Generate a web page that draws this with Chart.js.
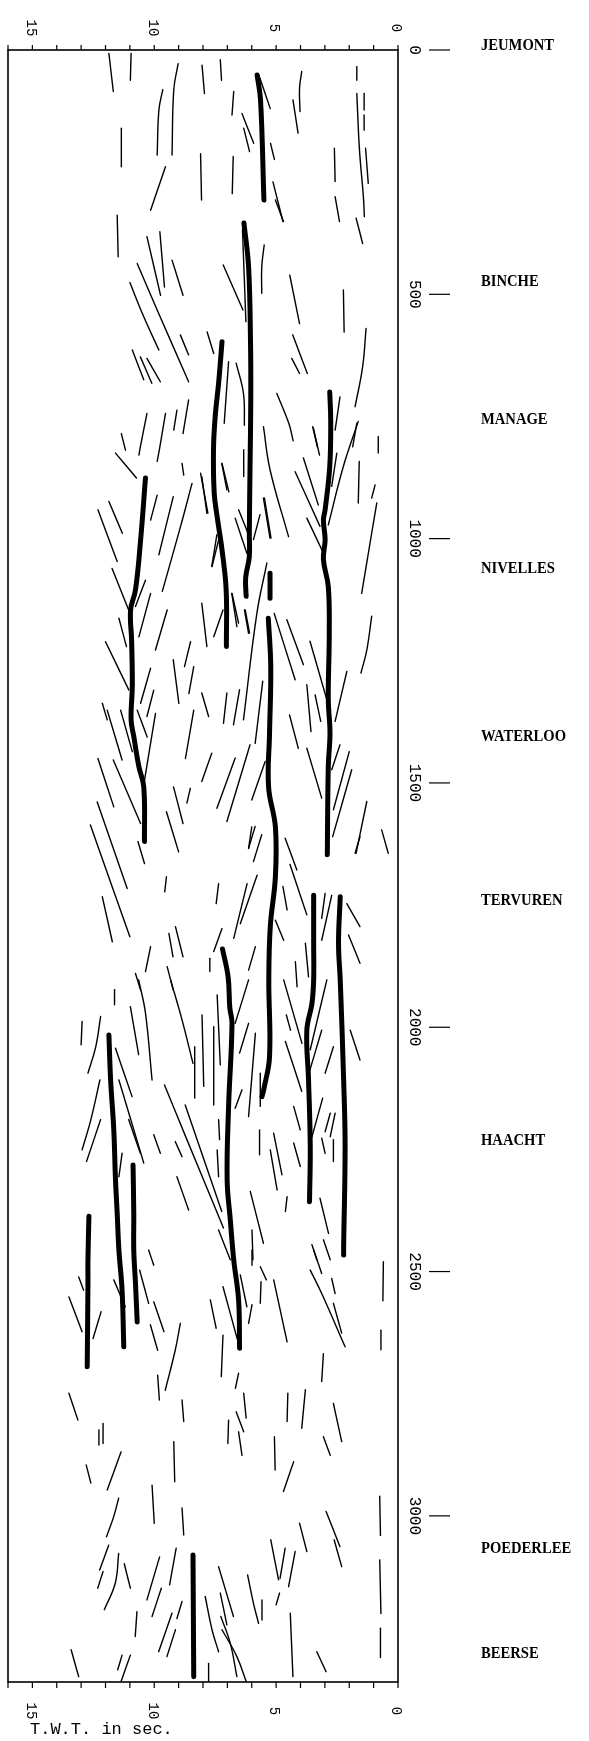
<!DOCTYPE html>
<html>
<head>
<meta charset="utf-8">
<script src="https://cdn.jsdelivr.net/npm/chart.js@4.4.0/dist/chart.umd.min.js"></script>
<style>
html, body { margin: 0; padding: 0; background: #fff; }
#wrap { width: 589px; height: 1741px; }
</style>
</head>
<body>
<div id="wrap"><canvas id="profile" width="589" height="1741"></canvas></div>
<script>
// Axis ticks
const twtTicks = [0, 5, 10, 15];
const distTicks = [0, 500, 1000, 1500, 2000, 2500, 3000];

// Localities along the profile (distance)
const placeNames = ["JEUMONT", "BINCHE", "MANAGE", "NIVELLES", "WATERLOO", "TERVUREN", "HAACHT", "POEDERLEE", "BEERSE"];
const placeDist = [-10, 473, 757, 1062, 1406, 1740, 2233, 3066, 3281];

// Main reflectors, [twt (s), distance]
const thickLines = [
    [[5.78, 51], [5.64, 102], [5.5, 307]],
    [[6.32, 354], [6.13, 444], [6.05, 600], [6.04, 716], [6.07, 852], [6.1, 989], [6.1, 1037], [6.25, 1080], [6.23, 1118]],
    [[7.22, 597], [7.36, 682], [7.5, 750], [7.57, 818], [7.54, 907], [7.42, 955], [7.22, 1023], [7.05, 1105], [7.04, 1221]],
    [[2.8, 700], [2.76, 760], [2.8, 852], [2.99, 941], [3.06, 962], [2.99, 1002], [3.06, 1043], [2.86, 1098], [2.82, 1193], [2.86, 1330], [2.79, 1398], [2.86, 1466], [2.9, 1647]],
    [[5.25, 1071], [5.25, 1122]],
    [[5.32, 1163], [5.22, 1262], [5.27, 1398], [5.31, 1508], [5.03, 1590], [5.03, 1692], [5.24, 1794], [5.3, 1903], [5.27, 2060], [5.51, 2128], [5.58, 2142]],
    [[10.36, 876], [10.56, 1003], [10.77, 1105], [10.97, 1146], [10.93, 1207], [10.9, 1300], [10.95, 1371], [10.84, 1405], [10.63, 1467], [10.43, 1508], [10.4, 1620]],
    [[7.2, 1840], [6.97, 1897], [6.9, 1960], [6.81, 1992], [6.95, 2162], [7.01, 2312], [6.88, 2394], [6.74, 2476], [6.54, 2558], [6.5, 2657]],
    [[3.46, 1730], [3.46, 1828], [3.46, 1903], [3.53, 1951], [3.74, 2006], [3.67, 2108], [3.6, 2244], [3.63, 2357]],
    [[2.37, 1733], [2.44, 1828], [2.37, 1903], [2.23, 2108], [2.17, 2244], [2.23, 2449], [2.23, 2466]],
    [[11.86, 2016], [11.79, 2108], [11.66, 2210], [11.59, 2312], [11.52, 2381], [11.45, 2456], [11.32, 2538], [11.25, 2654]],
    [[10.87, 2282], [10.84, 2381], [10.84, 2456], [10.77, 2524], [10.7, 2603]],
    [[12.68, 2387], [12.72, 2476], [12.72, 2524], [12.75, 2695]],
    [[8.41, 3080], [8.38, 3329]]
];

// Other reflector segments, [twt (s), distance]
const thinLines = [
    [[11.86, 7], [11.68, 85]], [[10.95, 7], [10.98, 62]], [[9.02, 28], [9.2, 82], [9.27, 215]],
    [[9.65, 81], [9.81, 123], [9.88, 215]], [[8.04, 31], [7.94, 89]], [[7.29, 20], [7.24, 62]],
    [[11.35, 160], [11.35, 239]], [[8.1, 212], [8.06, 307]], [[6.74, 85], [6.81, 133]],
    [[6.76, 218], [6.8, 294]], [[6.4, 130], [5.92, 191]], [[6.33, 160], [6.09, 208]],
    [[5.71, 51], [5.24, 120]], [[5.23, 191], [5.07, 224]], [[5.13, 270], [4.72, 351]],
    [[5.03, 307], [4.7, 351]], [[9.54, 239], [10.15, 328]], [[11.52, 338], [11.48, 423]],
    [[10.3, 382], [9.74, 502]], [[9.77, 372], [9.58, 485]], [[10.7, 437], [9.88, 532], [8.59, 679]],
    [[11.0, 476], [10.43, 546], [9.81, 614]], [[9.27, 430], [8.82, 502]], [[7.17, 440], [6.36, 532]],
    [[6.38, 368], [6.24, 556]], [[5.49, 399], [5.59, 444], [5.59, 498]], [[4.44, 461], [4.04, 560]],
    [[8.93, 583], [8.59, 624]], [[7.83, 577], [7.56, 621]], [[6.95, 638], [7.13, 764]],
    [[6.64, 641], [6.34, 703], [6.3, 768]], [[10.9, 614], [10.43, 675]], [[10.57, 628], [10.1, 682]],
    [[10.3, 631], [9.75, 679]], [[9.07, 737], [9.2, 778]], [[8.59, 716], [8.82, 785]],
    [[10.3, 744], [10.57, 812], [10.63, 829]], [[9.54, 744], [9.77, 812], [9.88, 842]], [[11.35, 785], [11.18, 819]],
    [[4.31, 102], [4.1, 170]], [[4.97, 703], [4.48, 764], [4.3, 800]],
    [[3.95, 44], [4.04, 78], [4.02, 126]], [[1.69, 34], [1.69, 62]], [[1.39, 89], [1.39, 123]],
    [[1.39, 133], [1.39, 164]], [[1.69, 89], [1.58, 205], [1.42, 300], [1.38, 341]], [[1.33, 201], [1.22, 273]],
    [[2.61, 201], [2.58, 269]], [[2.58, 300], [2.4, 351]], [[1.72, 344], [1.45, 396]],
    [[2.24, 491], [2.21, 577]], [[1.31, 570], [1.45, 648], [1.76, 730]], [[4.32, 583], [3.72, 662]],
    [[4.36, 631], [4.04, 662]], [[2.38, 710], [2.58, 778]], [[1.69, 764], [1.86, 812]],
    [[3.5, 771], [3.31, 812]],
    [[5.52, 771], [5.25, 859], [4.49, 996]], [[3.88, 835], [3.27, 931]], [[3.47, 774], [3.22, 829]],
    [[4.22, 863], [3.2, 975]], [[3.74, 958], [2.99, 1037]], [[1.63, 760], [2.24, 852], [2.86, 972]],
    [[2.51, 825], [2.72, 893]], [[0.81, 791], [0.81, 825]], [[1.59, 842], [1.63, 927]],
    [[0.94, 890], [1.08, 917]], [[0.87, 927], [1.08, 989], [1.49, 1112]], [[1.08, 1159], [1.28, 1228], [1.52, 1275]],
    [[6.68, 958], [6.2, 1030]], [[6.54, 941], [6.07, 999]], [[5.66, 951], [5.93, 1002]],
    [[5.52, 917], [5.25, 999]], [[7.23, 846], [7.02, 900]], [[8.05, 873], [7.84, 948]],
    [[7.43, 992], [7.64, 1057]], [[5.38, 1050], [5.79, 1153], [6.34, 1371]], [[8.05, 1132], [7.84, 1221]],
    [[6.27, 1146], [6.09, 1193]], [[6.82, 1112], [6.61, 1180]], [[5.08, 1153], [4.22, 1289]],
    [[4.56, 1166], [3.88, 1258]], [[3.61, 1210], [2.86, 1340]], [[3.74, 1299], [3.57, 1395]],
    [[3.4, 1320], [3.17, 1374]], [[2.1, 1272], [2.58, 1374]], [[8.05, 1316], [7.77, 1364]],
    [[7.02, 1316], [7.16, 1378]], [[6.5, 1309], [6.75, 1381]], [[5.55, 1292], [5.86, 1419]],
    [[4.45, 1361], [4.09, 1429]], [[3.74, 1429], [3.13, 1531]], [[2.38, 1422], [2.72, 1473]],
    [[2.0, 1436], [2.65, 1555]], [[1.9, 1473], [2.68, 1610]], [[1.28, 1538], [1.72, 1644]],
    [[0.67, 1596], [0.4, 1644]], [[7.64, 1439], [8.05, 1497]], [[6.68, 1449], [7.43, 1552]],
    [[6.07, 1422], [7.02, 1579]], [[5.45, 1456], [6.0, 1535]], [[5.86, 1589], [6.13, 1634]],
    [[5.59, 1606], [5.93, 1661]], [[4.63, 1613], [4.15, 1678]], [[4.43, 1667], [3.74, 1770]],
    [[11.59, 825], [10.73, 876]], [[11.86, 924], [11.31, 989]], [[12.31, 941], [11.52, 1047]],
    [[9.88, 911], [10.15, 962]], [[9.22, 914], [9.81, 1033]], [[8.45, 887], [8.92, 975], [9.67, 1108]],
    [[8.86, 846], [8.79, 870]], [[8.1, 866], [7.8, 948]], [[7.22, 846], [6.94, 904]],
    [[6.33, 818], [6.33, 873]], [[5.48, 917], [5.21, 999]], [[7.63, 1057], [7.36, 1003]],
    [[11.73, 1061], [11.05, 1146]], [[10.36, 1085], [10.77, 1139]], [[10.15, 1112], [10.63, 1201]],
    [[9.47, 1146], [9.95, 1228]], [[11.45, 1163], [11.14, 1221]], [[12.0, 1211], [11.04, 1310]],
    [[10.15, 1265], [10.56, 1337]], [[10.02, 1310], [10.3, 1364]], [[8.51, 1211], [8.76, 1262]],
    [[8.38, 1262], [8.58, 1317]], [[9.22, 1248], [8.99, 1337]], [[7.56, 1201], [7.18, 1146]],
    [[6.81, 1112], [6.54, 1173]], [[6.3, 1146], [6.13, 1194]], [[12.13, 1337], [11.93, 1371]],
    [[11.93, 1351], [11.32, 1453]], [[12.31, 1450], [11.66, 1549]], [[11.68, 1453], [10.56, 1583]],
    [[11.38, 1351], [10.9, 1436]], [[10.7, 1351], [10.29, 1406]], [[9.95, 1358], [10.43, 1504]],
    [[12.34, 1539], [11.11, 1716]], [[12.62, 1586], [11.0, 1815]], [[12.13, 1733], [11.72, 1825]],
    [[10.67, 1620], [10.4, 1665]], [[9.21, 1508], [8.82, 1583]], [[9.5, 1559], [9.0, 1641]],
    [[8.52, 1511], [8.66, 1541]], [[8.38, 1351], [8.72, 1450]], [[9.5, 1692], [9.57, 1723]],
    [[7.36, 1706], [7.46, 1747]], [[9.4, 1808], [9.23, 1856]], [[9.13, 1794], [8.82, 1856]],
    [[10.15, 1835], [10.36, 1886]], [[10.77, 1890], [10.56, 1924]], [[9.47, 1876], [9.22, 1924]],
    [[7.72, 1859], [7.72, 1886]], [[7.22, 1798], [7.56, 1845]], [[6.19, 1706], [6.74, 1818]],
    [[5.78, 1689], [6.47, 1788]], [[5.85, 1835], [6.13, 1883]], [[5.03, 1781], [4.69, 1822]],
    [[4.72, 1712], [4.55, 1760]], [[6.0, 1590], [6.13, 1634]], [[2.99, 1726], [3.13, 1777]],
    [[2.72, 1730], [3.13, 1822]], [[2.1, 1747], [1.56, 1794]], [[2.03, 1811], [1.56, 1869]],
    [[3.8, 1828], [3.67, 1897]], [[4.21, 1866], [4.14, 1917]], [[1.76, 1644], [1.56, 1610]],
    [[11.63, 1923], [11.63, 1954]], [[12.96, 1988], [13.0, 2036]], [[12.2, 1978], [12.4, 2040], [12.72, 2094]],
    [[12.23, 2108], [12.6, 2189], [12.96, 2251]], [[12.2, 2189], [12.78, 2275]], [[11.59, 2043], [10.91, 2142]],
    [[11.45, 2108], [10.43, 2278]], [[11.05, 2189], [10.57, 2258]], [[10.98, 1958], [10.64, 2056]],
    [[10.64, 1903], [10.36, 1971], [10.09, 2108]], [[10.02, 2220], [9.75, 2258]], [[11.32, 2258], [11.45, 2306]],
    [[9.33, 1903], [8.86, 1985], [8.41, 2074]], [[8.34, 2040], [8.34, 2145]], [[8.04, 1975], [7.97, 2121]],
    [[7.56, 1999], [7.56, 2159]], [[7.42, 1934], [7.29, 2077]], [[9.58, 2118], [8.66, 2230], [7.16, 2411]],
    [[8.73, 2159], [7.23, 2377]], [[9.14, 2234], [8.86, 2265]], [[9.07, 2306], [8.59, 2374]],
    [[7.36, 2189], [7.32, 2230]], [[7.42, 2251], [7.36, 2306]], [[7.36, 2415], [6.88, 2476]],
    [[6.13, 1903], [6.68, 1992]], [[6.13, 1992], [6.5, 2053]], [[5.85, 2012], [6.13, 2183]],
    [[6.4, 2128], [6.68, 2166]], [[5.65, 2094], [5.65, 2162]], [[5.68, 2210], [5.68, 2261]],
    [[5.1, 2217], [4.76, 2302]], [[5.24, 2251], [4.96, 2333]], [[6.06, 2336], [5.52, 2442]],
    [[5.99, 2415], [5.95, 2476]], [[4.55, 2347], [4.62, 2377]], [[4.58, 1975], [4.41, 2006]],
    [[4.62, 2029], [3.95, 2131]], [[4.28, 2162], [4.01, 2210]], [[4.28, 2237], [4.01, 2285]],
    [[4.69, 1903], [3.94, 2033]], [[2.92, 1903], [3.6, 2046]], [[3.13, 2006], [3.67, 2097]],
    [[3.09, 2145], [3.53, 2224]], [[2.65, 2040], [2.99, 2094]], [[2.78, 2176], [2.99, 2214]],
    [[2.58, 2176], [2.78, 2224]], [[3.13, 2227], [2.99, 2258]], [[2.65, 2230], [2.65, 2275]],
    [[3.2, 2350], [2.85, 2422]], [[3.53, 2445], [3.33, 2476]], [[3.06, 2435], [2.78, 2476]],
    [[1.96, 2006], [1.56, 2067]],
    [[13.1, 2511], [12.9, 2538]], [[13.5, 2552], [12.96, 2623]], [[12.18, 2582], [12.51, 2637]],
    [[11.66, 2517], [11.19, 2572]], [[10.6, 2497], [10.23, 2565]], [[10.02, 2562], [9.6, 2623]],
    [[10.16, 2609], [9.86, 2661]], [[8.93, 2606], [9.14, 2661], [9.55, 2743]], [[9.86, 2712], [9.79, 2763]],
    [[10.23, 2456], [10.02, 2487]], [[7.7, 2558], [7.46, 2616]], [[7.18, 2531], [6.6, 2637]],
    [[7.18, 2630], [7.25, 2715]], [[6.47, 2507], [6.2, 2572]], [[5.99, 2568], [6.13, 2606]],
    [[5.99, 2456], [5.99, 2487]], [[5.65, 2490], [5.4, 2517]], [[5.62, 2521], [5.65, 2565]],
    [[5.1, 2517], [4.55, 2644]], [[6.54, 2708], [6.67, 2739]], [[6.33, 2749], [6.23, 2800]],
    [[6.64, 2787], [6.33, 2828]], [[6.95, 2804], [6.98, 2852]], [[6.54, 2828], [6.4, 2876]],
    [[8.86, 2763], [8.79, 2807]], [[13.5, 2749], [13.13, 2804]], [[12.27, 2824], [12.27, 2855]],
    [[12.1, 2811], [12.1, 2852]], [[9.2, 2848], [9.16, 2930]], [[11.36, 2869], [11.93, 2947]],
    [[12.79, 2896], [12.6, 2933]], [[4.52, 2749], [4.55, 2807]], [[3.8, 2742], [3.95, 2821]],
    [[5.07, 2838], [5.04, 2906]], [[4.28, 2889], [4.7, 2950]], [[3.06, 2668], [3.13, 2725]],
    [[2.65, 2770], [2.31, 2848]], [[3.06, 2838], [2.78, 2876]], [[3.6, 2497], [3.13, 2545], [2.17, 2654]],
    [[3.46, 2456], [3.13, 2504]], [[2.72, 2514], [2.58, 2545]], [[2.65, 2565], [2.31, 2626]],
    [[10.09, 2937], [10.0, 3015]], [[8.86, 2984], [8.79, 3039]], [[11.46, 2964], [11.66, 3001], [11.96, 3043]],
    [[11.87, 3060], [12.24, 3111]], [[12.1, 3114], [12.32, 3148]], [[11.46, 3077], [11.6, 3138], [12.05, 3192]],
    [[11.23, 3098], [10.98, 3148]], [[9.78, 3084], [10.3, 3172]], [[9.1, 3066], [9.37, 3141]],
    [[9.71, 3148], [10.09, 3206]], [[8.86, 3175], [9.07, 3210]], [[10.71, 3196], [10.78, 3247]],
    [[9.27, 3199], [9.82, 3278]], [[9.13, 3233], [9.48, 3288]], [[13.41, 3274], [13.1, 3329]],
    [[11.32, 3285], [11.5, 3315]], [[10.98, 3285], [11.39, 3343]], [[7.77, 3302], [7.77, 3343]],
    [[7.36, 3104], [6.75, 3206]], [[7.29, 3158], [7.02, 3223]], [[7.91, 3165], [7.63, 3233], [7.36, 3278]],
    [[7.27, 3206], [6.88, 3261], [6.61, 3329]], [[7.22, 3233], [6.61, 3288], [6.2, 3343]],
    [[6.17, 3121], [5.93, 3179], [5.72, 3220]], [[5.58, 3172], [5.58, 3213]], [[5.22, 3049], [4.9, 3131]],
    [[4.63, 3066], [4.84, 3128]], [[4.22, 3073], [4.49, 3145]], [[4.86, 3158], [5.0, 3182]],
    [[4.42, 3199], [4.31, 3329]], [[4.04, 3015], [3.74, 3073]], [[2.95, 2991], [2.38, 3063]],
    [[2.62, 3049], [2.31, 3104]], [[3.33, 3278], [2.95, 3319]],
    [[0.6, 2480], [0.62, 2560]], [[0.7, 2620], [0.7, 2660]], [[0.75, 2960], [0.72, 3040]],
    [[0.75, 3090], [0.7, 3200]], [[0.72, 3230], [0.72, 3290]]
];

function toDataset(seg, width) {
    return {
        data: seg.map((p) => ({ x: p[0], y: p[1] })),
        showLine: true,
        borderColor: "#000",
        borderWidth: width,
        borderCapStyle: "round",
        pointRadius: 0,
        tension: 0.4,
        fill: false,
    };
}

const datasets = thinLines.map((s) => toDataset(s, 1.4)).concat(thickLines.map((s) => toDataset(s, 5)));

// Frame, rotated tick labels and locality names
const framePlugin = {
    id: "frame",
    afterDraw(chart) {
        const ctx = chart.ctx;
        const area = chart.chartArea;
        const xs = chart.scales.x;
        const ys = chart.scales.y;
        ctx.save();
        ctx.strokeStyle = "#000";
        ctx.fillStyle = "#000";
        ctx.lineWidth = 1.6;
        ctx.strokeRect(area.left, area.top, area.right - area.left, area.bottom - area.top);

        ctx.lineWidth = 1.2;
        for (let t = 0; t <= 16; t++) {
            const px = xs.getPixelForValue(t);
            ctx.beginPath();
            ctx.moveTo(px, area.top);
            ctx.lineTo(px, area.top - 5);
            ctx.moveTo(px, area.bottom);
            ctx.lineTo(px, area.bottom + 6);
            ctx.stroke();
        }

        ctx.font = "14px 'Liberation Mono'";
        ctx.textAlign = "center";
        ctx.textBaseline = "middle";
        twtTicks.forEach((t) => {
            const px = xs.getPixelForValue(t) - 2;
            [area.top - 22, area.bottom + 29].forEach((py) => {
                ctx.save();
                ctx.translate(px, py);
                ctx.rotate(Math.PI / 2);
                ctx.fillText(String(t), 0, 0);
                ctx.restore();
            });
        });

        ctx.font = "16px 'Liberation Mono'";
        distTicks.forEach((d) => {
            const py = ys.getPixelForValue(d);
            ctx.save();
            ctx.translate(414, py);
            ctx.rotate(Math.PI / 2);
            ctx.fillText(String(d), 0, 0);
            ctx.restore();
            ctx.beginPath();
            ctx.moveTo(429, py);
            ctx.lineTo(450, py);
            ctx.stroke();
        });

        ctx.textAlign = "left";
        ctx.font = "17px 'Liberation Mono'";
        ctx.fillText("T.W.T. in sec.", 30, 1729);

        ctx.font = "bold 17px 'Liberation Serif'";
        placeNames.forEach((name, i) => {
            ctx.save();
            ctx.translate(481, ys.getPixelForValue(placeDist[i]));
            ctx.scale(0.86, 1);
            ctx.fillText(name, 0, 0);
            ctx.restore();
        });
        ctx.restore();
    },
};

new Chart(document.getElementById("profile"), {
    type: "scatter",
    data: { datasets: datasets },
    options: {
        responsive: false,
        animation: false,
        layout: { padding: { left: 8, right: 191, top: 50, bottom: 59 } },
        scales: {
            x: { type: "linear", reverse: true, min: 0, max: 16, display: false },
            y: { type: "linear", reverse: true, min: 0, max: 3340, display: false },
        },
        plugins: { legend: { display: false }, tooltip: { enabled: false } },
    },
    plugins: [framePlugin],
});
</script>
</body>
</html>
